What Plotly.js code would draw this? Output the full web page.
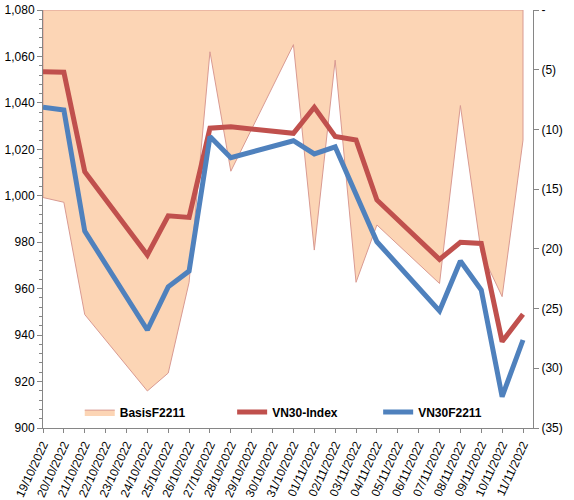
<!DOCTYPE html>
<html>
<head>
<meta charset="utf-8">
<script src="https://cdn.plot.ly/plotly-3.0.1.min.js"></script>
<style>
  html, body { margin: 0; padding: 0; background: #ffffff; }
  #chart { width: 574px; height: 500px; }
</style>
</head>
<body>
<div id="chart"></div>
<script>
// Trading days (weekends are skipped, the date axis keeps calendar spacing)
const tradingDays = [
  '2022-10-19', '2022-10-20', '2022-10-21', '2022-10-24', '2022-10-25', '2022-10-26',
  '2022-10-27', '2022-10-28', '2022-10-31', '2022-11-01', '2022-11-02', '2022-11-03',
  '2022-11-04', '2022-11-07', '2022-11-08', '2022-11-09', '2022-11-10', '2022-11-11'
];

// VN30 spot index close
const vn30Index = [
  1053.4, 1053.2, 1010.4, 974.5, 991.4, 990.7,
  1029.1, 1029.7, 1026.9, 1038.1, 1025.5, 1024.0,
  998.2, 972.6, 980.0, 979.5, 937.2, 949.0
];

// VN30F2211 futures close
const vn30F2211 = [
  1038.1, 1036.9, 984.8, 942.2, 960.8, 967.6,
  1025.5, 1016.4, 1023.7, 1018.0, 1021.1, 1001.2,
  980.2, 950.4, 971.9, 959.4, 913.5, 937.9
];

// Basis of the F2211 contract (futures minus index), right axis
const basisF2211 = [
  -15.7, -16.1, -25.5, -31.9, -30.4, -22.8,
  -3.5, -13.5, -2.9, -20.1, -4.2, -22.8,
  -18.0, -22.9, -8.0, -20.3, -24.0, -10.9
];

// Right axis tick values and their accounting-style labels
const basisTickVals = [0, -5, -10, -15, -20, -25, -30, -35];
const basisTickText = ['-', '(5)', '(10)', '(15)', '(20)', '(25)', '(30)', '(35)'];

const seriesNames = ['BasisF2211', 'VN30-Index', 'VN30F2211'];

// Closed outline for the basis area: along the data, back along the zero line
const first = tradingDays[0];
const last = tradingDays[tradingDays.length - 1];
const areaX = tradingDays.concat([last, first, first]);
const areaY = basisF2211.concat([0, 0, basisF2211[0]]);

const axisGrey = '#868686';
const tickFont = { family: 'Liberation Sans, Arial, sans-serif', size: 12, color: '#000000' };
const legendFont = { family: 'Liberation Sans, Arial, sans-serif', size: 12, color: '#000000', weight: 'bold' };

// The basis area lives on the base y axis (right side) so the price lines,
// on the overlaying axis (left side), are drawn above it.
const traces = [
  {
    name: seriesNames[0],
    x: areaX,
    y: areaY,
    yaxis: 'y',
    type: 'scatter',
    mode: 'lines',
    fill: 'toself',
    fillcolor: '#FCD5B5',
    line: { color: '#D99A92', width: 1 },
    legend: 'legend',
    hoverinfo: 'skip'
  },
  {
    name: seriesNames[1],
    x: tradingDays,
    y: vn30Index,
    yaxis: 'y2',
    type: 'scatter',
    mode: 'lines',
    line: { color: '#C0504D', width: 5 },
    legend: 'legend2'
  },
  {
    name: seriesNames[2],
    x: tradingDays,
    y: vn30F2211,
    yaxis: 'y2',
    type: 'scatter',
    mode: 'lines',
    line: { color: '#4F81BD', width: 5 },
    legend: 'legend3'
  }
];

const legendBase = {
  orientation: 'h',
  yanchor: 'middle',
  y: 0.038,
  xanchor: 'left',
  bgcolor: 'rgba(0,0,0,0)',
  borderwidth: 0,
  font: legendFont,
  itemwidth: 30
};

const layout = {
  width: 574,
  height: 500,
  margin: { l: 43, r: 41, t: 10, b: 72, pad: 0 },
  paper_bgcolor: '#ffffff',
  plot_bgcolor: '#ffffff',
  showlegend: true,
  legend: Object.assign({}, legendBase, { x: 0.075 }),
  legend2: Object.assign({}, legendBase, { x: 0.386 }),
  legend3: Object.assign({}, legendBase, { x: 0.684 }),
  xaxis: {
    type: 'date',
    range: ['2022-10-19', '2022-11-11 11:30'],
    tick0: '2022-10-19',
    dtick: 86400000,
    tickformat: '%d/%m/%Y',
    tickangle: -65,
    ticks: 'outside',
    ticklen: 4,
    tickcolor: axisGrey,
    showline: true,
    linecolor: axisGrey,
    linewidth: 1,
    showgrid: false,
    zeroline: false,
    tickfont: tickFont
  },
  yaxis: {
    side: 'right',
    range: [-35, 0],
    tickvals: basisTickVals,
    ticktext: basisTickText,
    ticks: 'outside',
    ticklen: 5,
    tickcolor: axisGrey,
    showline: true,
    linecolor: axisGrey,
    linewidth: 1,
    showgrid: false,
    zeroline: false,
    tickfont: tickFont
  },
  yaxis2: {
    overlaying: 'y',
    side: 'left',
    range: [900, 1080],
    dtick: 20,
    tickformat: ',',
    ticks: 'outside',
    ticklen: 5,
    tickcolor: axisGrey,
    showline: true,
    linecolor: axisGrey,
    linewidth: 1,
    showgrid: false,
    zeroline: false,
    tickfont: tickFont,
    minor: { dtick: 4, ticks: 'outside', ticklen: 3, tickcolor: axisGrey, showgrid: false }
  }
};

Plotly.newPlot('chart', traces, layout, { displayModeBar: false, staticPlot: true });
</script>
</body>
</html>
